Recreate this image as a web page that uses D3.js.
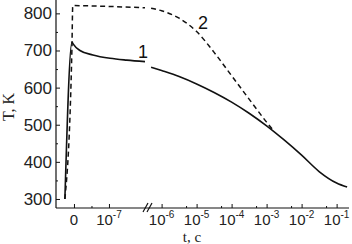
<!DOCTYPE html>
<html>
<head>
<meta charset="utf-8">
<script src="https://cdn.jsdelivr.net/npm/d3@7"></script>
<style>
  html, body { margin: 0; padding: 0; background: #fff; }
  svg { display: block; }
  .tick text { font-family: Arial, "Liberation Sans", sans-serif; fill: #222; }
</style>
</head>
<body>
<div id="chart"></div>
<script>
// ---- data ----
// linear part of the time axis, seconds
const linTime1 = [-0.26e-7, -0.057e-7, -0.02e-7, 0.17e-7, 0.54e-7, 1.03e-7, 1.51e-7, 2.03e-7];
const linTemp1 = [300, 723, 717, 700, 688, 679, 674, 670];
const linTime2 = [-0.26e-7, -0.06e-7, -0.035e-7, 0.5e-7, 1.2e-7, 2.03e-7];
const linTemp2 = [300, 700, 821, 820, 818, 815];
// log part of the time axis, log10(t)
const logExp1 = [-6.3, -6, -5.5, -5, -4.5, -4, -3.5, -3, -2.5, -2, -1.5, -1, -0.7];
const logTemp1 = [655, 646, 630, 610, 587, 561, 531, 497, 459, 418, 374, 343, 332];
const logExp2 = [-6.3, -6, -5.5, -5, -4.5, -4, -3.5, -3, -2.8];
const logTemp2 = [814, 807, 787, 751, 695, 632, 569, 507, 484];

const yTicks = [300, 400, 500, 600, 700, 800];
const yMinor = [350, 450, 550, 650, 750];
const linTicks = [0, 1e-7];
const linMinor = [0.5e-7];
const logTicks = [-6, -5, -4, -3, -2, -1];
const logMinor = [5e-6, 5e-5, 5e-4, 5e-3, 5e-2];

const width = 352, height = 244;
const axisY = 208, axisX = 56;

const svg = d3.select("#chart").append("svg")
  .attr("width", width)
  .attr("height", height);

const y = d3.scaleLinear().domain([275.7, 836]).range([axisY, 0]);
const xLin = d3.scaleLinear().domain([-0.514e-7, 2.03e-7]).range([axisX, 145]);
const xLog = d3.scaleLog().domain([Math.pow(10, -6.36), Math.pow(10, -0.646)]).range([149, 349]);

// y axis
const gy = svg.append("g").attr("transform", "translate(" + axisX + ",0)")
  .call(d3.axisLeft(y).tickValues(yTicks).tickSize(-4).tickPadding(4));
gy.select(".domain").remove();
gy.selectAll("text").style("font-size", "17px");
const gyMinor = svg.append("g").attr("transform", "translate(" + axisX + ",0)")
  .call(d3.axisLeft(y).tickValues(yMinor).tickSize(-2).tickFormat(""));
gyMinor.select(".domain").remove();

svg.append("line")
  .attr("x1", axisX).attr("x2", axisX)
  .attr("y1", 0).attr("y2", axisY)
  .attr("stroke", "#111").attr("stroke-width", 1.2);

// x axis, linear piece
const gxLin = svg.append("g").attr("transform", "translate(0," + axisY + ")")
  .call(d3.axisBottom(xLin).tickValues(linTicks).tickSize(-4).tickFormat(""));
gxLin.select(".domain").remove();
const gxLinMinor = svg.append("g").attr("transform", "translate(0," + axisY + ")")
  .call(d3.axisBottom(xLin).tickValues(linMinor).tickSize(-2).tickFormat(""));
gxLinMinor.select(".domain").remove();

// x axis, log piece
const gxLog = svg.append("g").attr("transform", "translate(0," + axisY + ")")
  .call(d3.axisBottom(xLog).tickValues(logTicks.map(e => Math.pow(10, e))).tickSize(-4).tickFormat(""));
gxLog.select(".domain").remove();
const gxLogMinor = svg.append("g").attr("transform", "translate(0," + axisY + ")")
  .call(d3.axisBottom(xLog).tickValues(logMinor).tickSize(-2).tickFormat(""));
gxLogMinor.select(".domain").remove();

svg.selectAll(".tick line").attr("stroke", "#111");

svg.append("line")
  .attr("x1", axisX).attr("x2", 349)
  .attr("y1", axisY).attr("y2", axisY)
  .attr("stroke", "#111").attr("stroke-width", 1.2);

// break marks
[145.5, 149.5].forEach(bx => {
  svg.append("line")
    .attr("x1", bx - 2.5).attr("x2", bx + 2.5)
    .attr("y1", axisY + 4).attr("y2", axisY - 5)
    .attr("stroke", "#111").attr("stroke-width", 1.2);
});

// x tick labels
const labelY = 225;
function powLabel(x, exp) {
  const t = svg.append("text")
    .attr("x", x).attr("y", labelY)
    .attr("text-anchor", "middle")
    .attr("font-family", "Arial, 'Liberation Sans', sans-serif")
    .attr("fill", "#222")
    .style("font-size", "15px");
  t.append("tspan").text("10");
  t.append("tspan").attr("dy", -7).style("font-size", "10px").text("-" + exp);
}
svg.append("text")
  .attr("x", xLin(0)).attr("y", labelY)
  .attr("text-anchor", "middle")
  .attr("font-family", "Arial, 'Liberation Sans', sans-serif")
  .attr("fill", "#222")
  .style("font-size", "15px")
  .text("0");
powLabel(xLin(1e-7), 7);
logTicks.forEach(e => powLabel(xLog(Math.pow(10, e)), -e));

// axis titles
svg.append("text")
  .attr("x", 192).attr("y", 242)
  .attr("text-anchor", "middle")
  .attr("font-family", "'Liberation Serif', 'Times New Roman', serif")
  .attr("fill", "#222")
  .style("font-size", "15px")
  .text("t, c");

svg.append("text")
  .attr("transform", "translate(14,107) rotate(-90)")
  .attr("text-anchor", "middle")
  .attr("font-family", "'Liberation Serif', 'Times New Roman', serif")
  .attr("fill", "#222")
  .style("font-size", "16px")
  .text("T, K");

// curves
const lineLin = d3.line().x(d => xLin(d[0])).y(d => y(d[1])).curve(d3.curveMonotoneX);
const lineLog = d3.line().x(d => xLog(Math.pow(10, d[0]))).y(d => y(d[1])).curve(d3.curveMonotoneX);

const solid1a = linTime1.map((t, i) => [t, linTemp1[i]]);
const solid1b = logExp1.map((e, i) => [e, logTemp1[i]]);
const dash2a = linTime2.map((t, i) => [t, linTemp2[i]]);
const dash2b = logExp2.map((e, i) => [e, logTemp2[i]]);

svg.append("path").attr("d", lineLin(dash2a))
  .attr("fill", "none").attr("stroke", "#111").attr("stroke-width", 1.5)
  .attr("stroke-dasharray", "5,3.5");
svg.append("path").attr("d", lineLog(dash2b))
  .attr("fill", "none").attr("stroke", "#111").attr("stroke-width", 1.5)
  .attr("stroke-dasharray", "5,3.5");

svg.append("path").attr("d", lineLin(solid1a))
  .attr("fill", "none").attr("stroke", "#111").attr("stroke-width", 1.6);
svg.append("path").attr("d", lineLog(solid1b))
  .attr("fill", "none").attr("stroke", "#111").attr("stroke-width", 1.6);

// curve labels
svg.append("text")
  .attr("x", 143).attr("y", 58)
  .attr("text-anchor", "middle")
  .attr("font-family", "Arial, 'Liberation Sans', sans-serif")
  .attr("fill", "#111")
  .style("font-size", "18px")
  .text("1");
svg.append("text")
  .attr("x", 203).attr("y", 29)
  .attr("text-anchor", "middle")
  .attr("font-family", "Arial, 'Liberation Sans', sans-serif")
  .attr("fill", "#111")
  .style("font-size", "18px")
  .text("2");
</script>
</body>
</html>
